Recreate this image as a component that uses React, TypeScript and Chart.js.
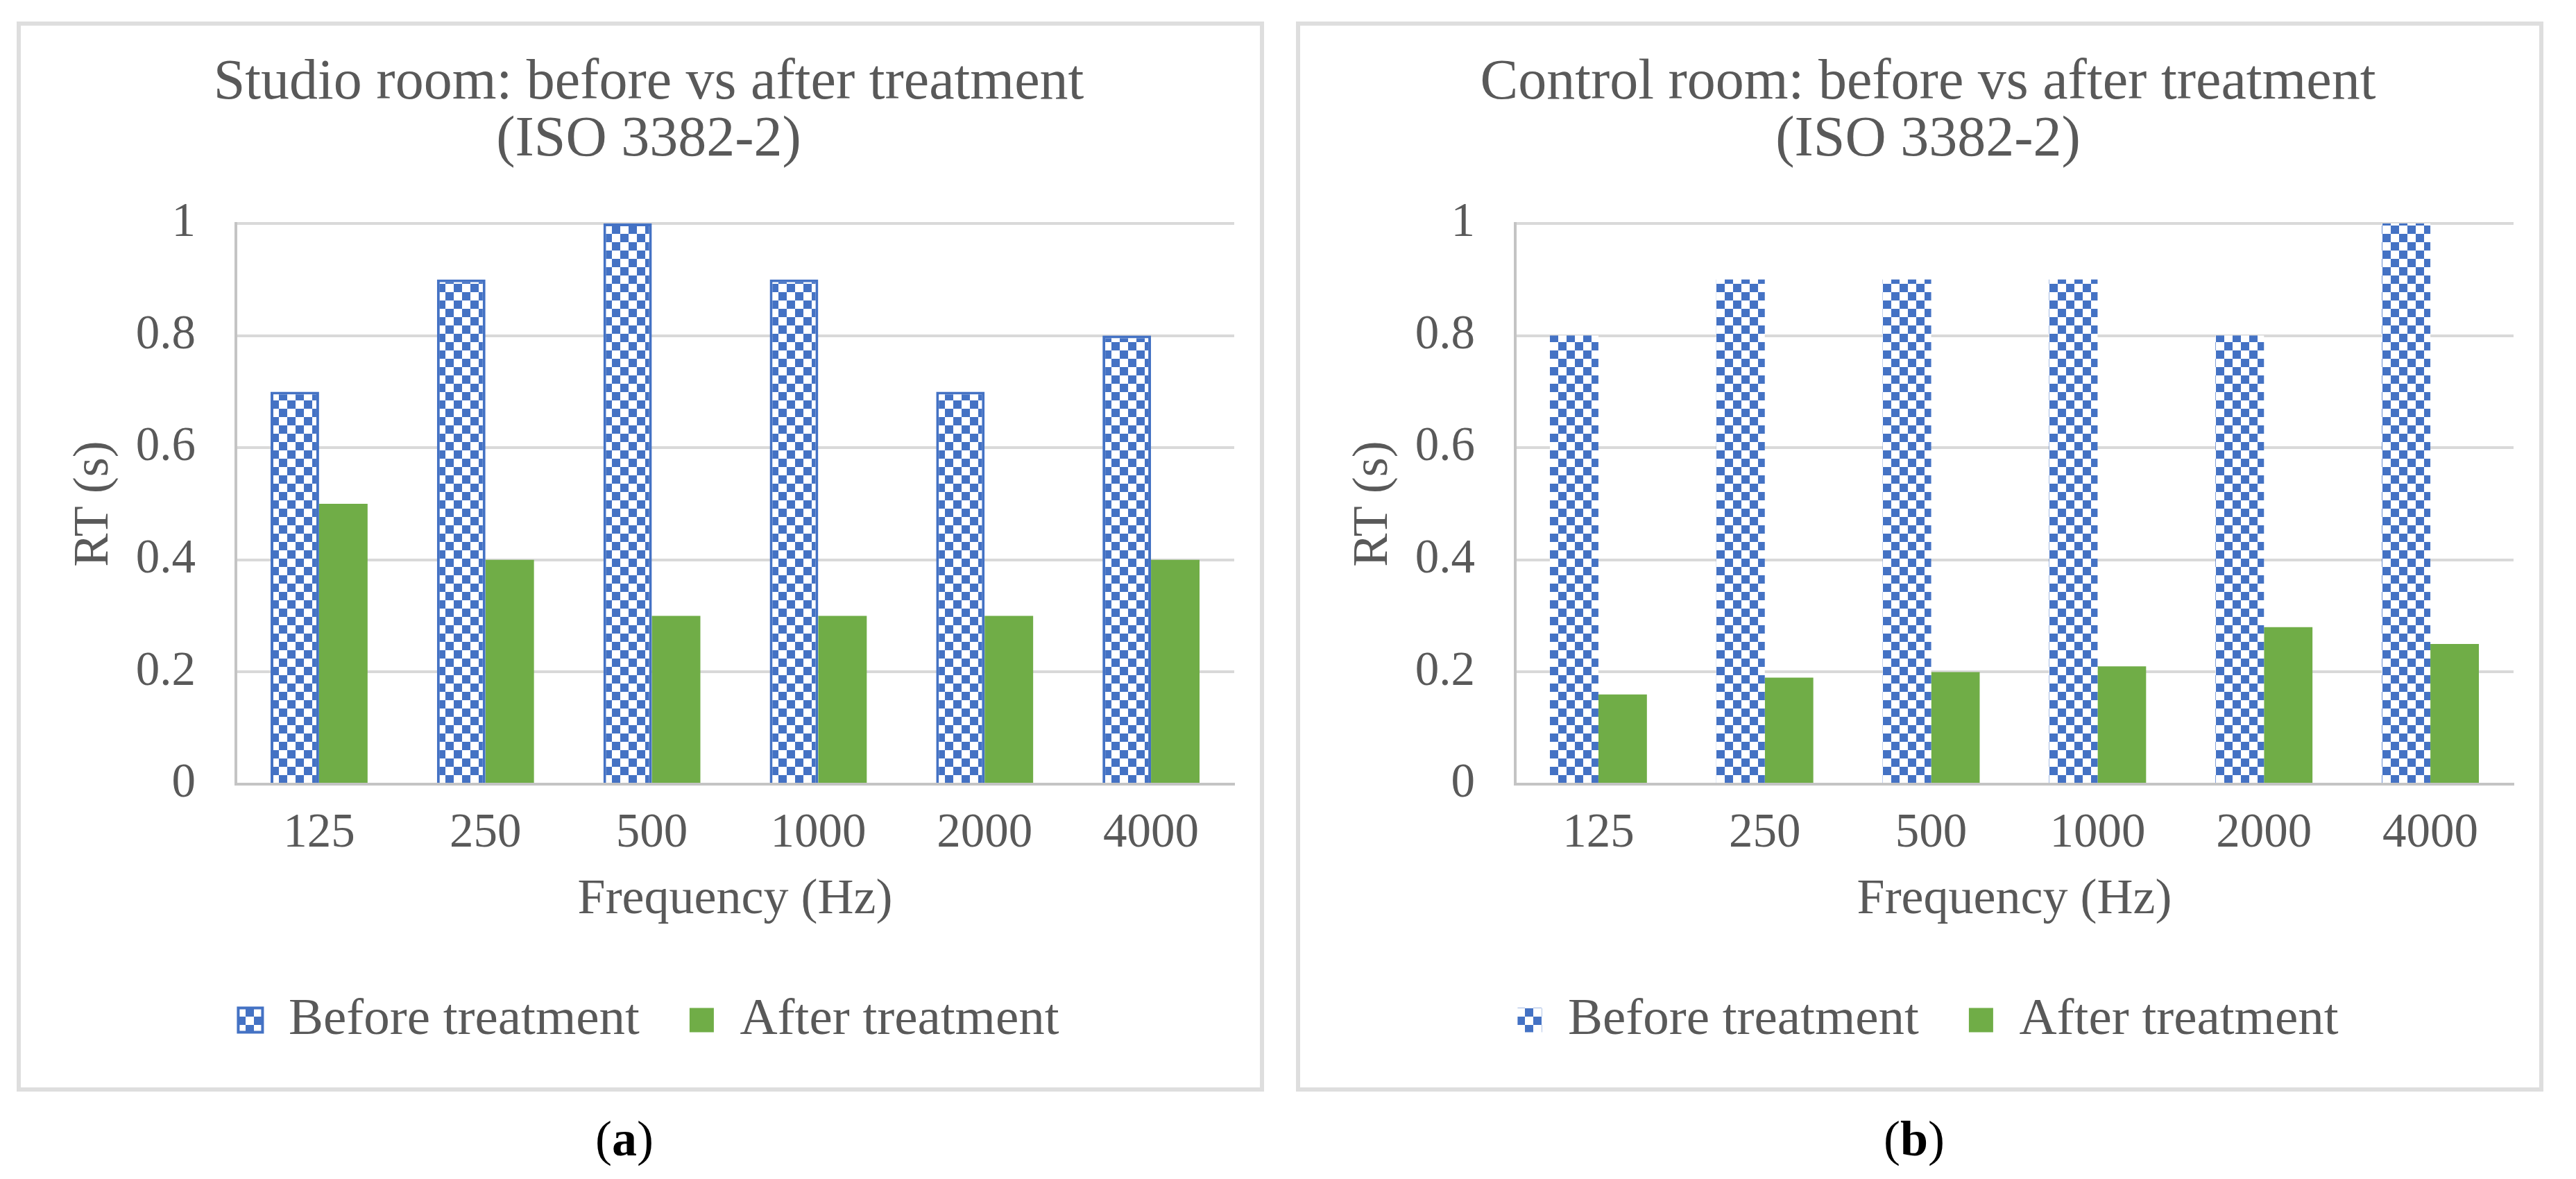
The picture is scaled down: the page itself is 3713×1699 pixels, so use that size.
import React, { useEffect, useRef } from 'react';
import { Chart, registerables } from 'chart.js';

Chart.register(...registerables);

// ---------- data ----------
const categories = ['125', '250', '500', '1000', '2000', '4000'];
const studioBefore = [0.7, 0.9, 1.0, 0.9, 0.7, 0.8];
const studioAfter = [0.5, 0.4, 0.3, 0.3, 0.3, 0.4];
const controlBefore = [0.8, 0.9, 0.9, 0.9, 0.8, 1.0];
const controlAfter = [0.16, 0.19, 0.2, 0.21, 0.28, 0.25];
const seriesNames = ['Before treatment', 'After treatment'];
const studioTitle = ['Studio room: before vs after treatment', '(ISO 3382-2)'];
const controlTitle = ['Control room: before vs after treatment', '(ISO 3382-2)'];
const xTitle = 'Frequency (Hz)';
const yTitle = 'RT (s)';
const yMin = 0;
const yMax = 1;
const yStep = 0.2;

// ---------- style ----------
const FONT = "'Liberation Serif', 'Times New Roman', serif";
const TEXT = '#595959';
const BLUE = '#4472c4';
const GREEN = '#70ad47';
const GRID = '#d9d9d9';
const AXIS = '#c4c4c4';
const PANEL_W = 1798;
const PANEL_H = 1542;
const BORDER = 6;
const CANVAS_W = PANEL_W - 2 * BORDER;
const CANVAS_H = PANEL_H - 2 * BORDER;

function makeChecker(): CanvasPattern | string {
  const c = document.createElement('canvas');
  const s = 12;
  c.width = s * 2;
  c.height = s * 2;
  const ctx = c.getContext('2d');
  if (!ctx) return BLUE;
  ctx.fillStyle = '#ffffff';
  ctx.fillRect(0, 0, s * 2, s * 2);
  ctx.fillStyle = BLUE;
  ctx.fillRect(s, 0, s, s);
  ctx.fillRect(0, s, s, s);
  const p = ctx.createPattern(c, 'repeat');
  return p || BLUE;
}

type PanelProps = {
  left: number;
  title: string[];
  before: number[];
  after: number[];
  outlined: boolean;
};

function Panel({ left, title, before, after, outlined }: PanelProps) {
  const ref = useRef<HTMLCanvasElement | null>(null);

  useEffect(() => {
    if (!ref.current) return;
    const pattern = makeChecker();
    const chart = new Chart(ref.current, {
      type: 'bar',
      data: {
        labels: categories,
        datasets: [
          {
            label: seriesNames[0],
            data: before,
            backgroundColor: pattern as any,
            borderColor: BLUE,
            borderWidth: outlined ? 4 : 0,
            categoryPercentage: 0.583,
            barPercentage: 1,
          },
          {
            label: seriesNames[1],
            data: after,
            backgroundColor: GREEN,
            borderWidth: 0,
            categoryPercentage: 0.583,
            barPercentage: 1,
          },
        ],
      },
      options: {
        animation: false,
        responsive: false,
        devicePixelRatio: 1,
        layout: { padding: { left: 61, right: 37, top: 0, bottom: 49.5 } },
        plugins: {
          title: {
            display: true,
            text: title,
            color: TEXT,
            font: { family: FONT, size: 82, weight: 'normal', lineHeight: 1.0 },
            padding: { top: 42, bottom: 79 },
          },
          legend: {
            position: 'bottom',
            labels: {
              color: TEXT,
              font: { family: FONT, size: 75 },
              boxWidth: 35,
              boxHeight: 35,
              padding: 72,
            },
          },
          tooltip: { enabled: false },
        },
        scales: {
          x: {
            grid: { display: false, drawTicks: false },
            border: { display: true, color: AXIS, width: 4 },
            ticks: { color: TEXT, font: { family: FONT, size: 69 }, padding: 30 },
            title: {
              display: true,
              text: xTitle,
              color: TEXT,
              font: { family: FONT, size: 72 },
              padding: { top: 10, bottom: 20.3 },
            },
            afterFit: (scale: any) => {
              scale.height = 230.5;
            },
          },
          y: {
            min: yMin,
            max: yMax,
            ticks: {
              stepSize: yStep,
              color: TEXT,
              font: { family: FONT, size: 69 },
              padding: 58,
              callback: (v: any) => String(Number(Number(v).toFixed(2))),
            },
            grid: { color: GRID, lineWidth: 4, drawTicks: false },
            border: { display: true, color: AXIS, width: 4 },
            title: {
              display: true,
              text: yTitle,
              color: TEXT,
              font: { family: FONT, size: 72 },
              padding: { top: 2, bottom: 10 },
            },
            afterFit: (scale: any) => {
              scale.width = 249;
            },
          },
        },
      },
    });
    return () => chart.destroy();
  }, []);

  return (
    <div
      style={{
        position: 'absolute',
        left,
        top: 31,
        width: PANEL_W,
        height: PANEL_H,
        boxSizing: 'border-box',
        border: `${BORDER}px solid #dedede`,
        background: '#ffffff',
      }}
    >
      <canvas
        ref={ref}
        width={CANVAS_W}
        height={CANVAS_H}
        style={{ display: 'block', width: CANVAS_W, height: CANVAS_H }}
      />
    </div>
  );
}

function SubLabel({ cx, letter }: { cx: number; letter: string }) {
  return (
    <div
      style={{
        position: 'absolute',
        left: cx - 150,
        top: 1596,
        width: 300,
        lineHeight: '90px',
        textAlign: 'center',
        fontFamily: FONT,
        fontSize: 72,
        color: '#000000',
      }}
    >
      (<b>{letter}</b>)
    </div>
  );
}

export default function App() {
  return (
    <div
      style={{
        position: 'absolute',
        left: 0,
        top: 0,
        width: 3713,
        height: 1699,
        background: '#ffffff',
        overflow: 'hidden',
      }}
    >
      <Panel left={24} title={studioTitle} before={studioBefore} after={studioAfter} outlined={true} />
      <Panel left={1868} title={controlTitle} before={controlBefore} after={controlAfter} outlined={false} />
      <SubLabel cx={900} letter="a" />
      <SubLabel cx={2759} letter="b" />
    </div>
  );
}
